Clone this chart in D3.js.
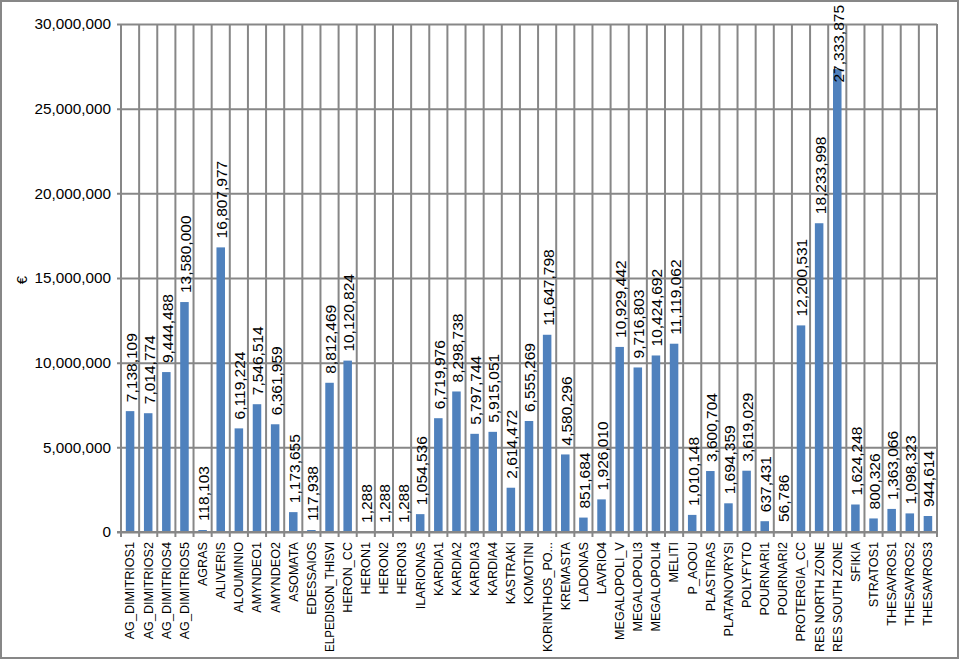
<!DOCTYPE html>
<html>
<head>
<meta charset="utf-8">
<script src="https://cdn.jsdelivr.net/npm/d3@7"></script>
<style>
  html, body { margin: 0; padding: 0; background: #fff; }
  svg { display: block; }
  text { font-family: "Liberation Sans", Arial, sans-serif; fill: #000; }
</style>
</head>
<body>
<svg id="chart" width="960" height="660"></svg>
<script>
const categories = ["AG_DIMITRIOS1","AG_DIMITRIOS2","AG_DIMITRIOS4","AG_DIMITRIOS5","AGRAS","ALIVERIS","ALOUMINIO","AMYNDEO1","AMYNDEO2","ASOMATA","EDESSAIOS","ELPEDISON_THISVI","HERON_CC","HERON1","HERON2","HERON3","ILARIONAS","KARDIA1","KARDIA2","KARDIA3","KARDIA4","KASTRAKI","KOMOTINI","KORINTHOS_PO...","KREMASTA","LADONAS","LAVRIO4","MEGALOPOLI_V","MEGALOPOLI3","MEGALOPOLI4","MELITI","P_AOOU","PLASTIRAS","PLATANOVRYSI","POLYFYTO","POURNARI1","POURNARI2","PROTERGIA_CC","RES NORTH ZONE","RES SOUTH ZONE","SFIKIA","STRATOS1","THESAVROS1","THESAVROS2","THESAVROS3"];
const values = [7138109,7014774,9444488,13580000,118103,16807977,6119224,7546514,6361959,1173655,117938,8812469,10120824,1288,1288,1288,1054536,6719976,8298738,5797744,5915051,2614472,6555269,11647798,4580296,851684,1926010,10929442,9716803,10424692,11119062,1010148,3600704,1694359,3619029,637431,56786,12200531,18233998,27333875,1624248,800326,1363066,1098323,944614];
const yTicks = [0,5000000,10000000,15000000,20000000,25000000,30000000];
const yTitle = "€";

const svg = d3.select("#chart");
const W = 960, H = 660;
const m = {left: 121, right: 937, top: 24, bottom: 532};
const grid = "#878787";

svg.append("rect").attr("x",1).attr("y",1).attr("width",W-3).attr("height",H-3)
  .attr("fill","#fff").attr("stroke",grid).attr("stroke-width",2);

const x = d3.scaleBand().domain(categories).range([m.left, m.right]).paddingInner(0).paddingOuter(0);
const y = d3.scaleLinear().domain([0,30000000]).range([m.bottom, m.top]);
const fmt = d3.format(",");

// horizontal gridlines + y axis
const yAxis = d3.axisLeft(y).tickValues(yTicks).tickFormat(fmt).tickSize(-(m.right-m.left)).tickSizeOuter(0).tickPadding(10);
const gy = svg.append("g").attr("transform",`translate(${m.left},0)`).call(yAxis);
gy.select(".domain").remove();
gy.selectAll(".tick line").attr("stroke",grid).attr("stroke-width",2).attr("x1",-4);
gy.selectAll(".tick text").style("font-size","15.3px").attr("fill","#000");

// vertical gridlines at category boundaries
const bounds = categories.map(c => x(c)).concat([x(categories[categories.length-1]) + x.bandwidth()]);
svg.append("g").selectAll("line").data(bounds).join("line")
  .attr("x1",d=>d).attr("x2",d=>d).attr("y1",m.top).attr("y2",m.bottom+5)
  .attr("stroke",grid).attr("stroke-width",2);

// bars
const bw = x.bandwidth()*0.47;
svg.append("g").selectAll("rect").data(values).join("rect")
  .attr("x",(d,i)=>x(categories[i]) + (x.bandwidth()-bw)/2)
  .attr("width",bw)
  .attr("y",d=>y(d))
  .attr("height",d=>m.bottom - y(d))
  .attr("fill","#4f81bd");

// baseline
svg.append("line").attr("x1",m.left-4).attr("x2",m.right).attr("y1",m.bottom).attr("y2",m.bottom)
  .attr("stroke",grid).attr("stroke-width",2);

// value labels (kept inside the chart: shifted down if they would overflow the top)
const labels = svg.append("g").selectAll("text").data(values).join("text")
  .attr("text-anchor","start").attr("dy","0.35em")
  .style("font-size","15.5px")
  .text(d=>fmt(d));
labels.each(function(d,i){
  const len = this.getComputedTextLength();
  const base = Math.max(y(d) - 9, 5 + len);
  d3.select(this).attr("transform",`translate(${x(categories[i]) + x.bandwidth()/2 + 1},${base}) rotate(-90)`);
});

// category labels
const xAxis = d3.axisBottom(x).tickSize(0).tickPadding(0);
const gx = svg.append("g").attr("transform",`translate(0,${m.bottom})`).call(xAxis);
gx.select(".domain").remove();
gx.selectAll(".tick text")
  .attr("transform","translate(0,10) rotate(-90)")
  .attr("text-anchor","end").attr("x",0).attr("y",0).attr("dy","0.35em")
  .style("font-size","12.6px").attr("fill","#000")
  .each(function(){
    const len = this.getComputedTextLength();
    if (len > 110) d3.select(this).attr("textLength",110).attr("lengthAdjust","spacingAndGlyphs");
  });

// y title
svg.append("text").attr("transform",`translate(22,280) rotate(-90)`)
  .attr("text-anchor","middle").attr("dy","0.35em").style("font-size","15px").text(yTitle);
</script>
</body>
</html>
